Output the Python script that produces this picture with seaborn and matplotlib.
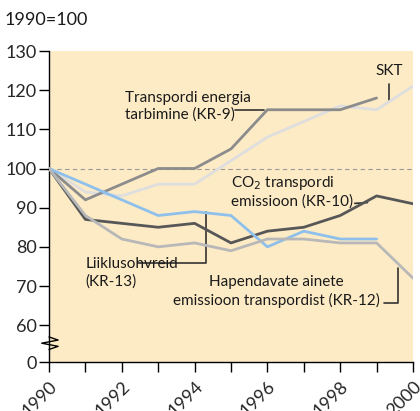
import numpy as np
import pandas as pd
import matplotlib
matplotlib.use("Agg")
import matplotlib.pyplot as plt
import matplotlib.transforms as mtransforms
import seaborn as sns

years = list(range(1990, 2001))

# 1990 = 100 index values
skt = [100, 94, 93, 96, 96, 102, 108, 112, 116, 115, 121]
energia_kr9 = [100, 92, 96, 100, 100, 105, 115, 115, 115, 118, None]
co2_kr10 = [100, 87, 86, 85, 86, 81, 84, 85, 88, 93, 91]
ohvrid_kr13 = [100, 96, 92, 88, 89, 88, 80, 84, 82, 82, None]
hapend_kr12 = [100, 88, 82, 80, 81, 79, 82, 82, 81, 81, 72]

series_names = ["SKT", "KR-9", "KR-10", "KR-13", "KR-12"]
series_values = [skt, energia_kr9, co2_kr10, ohvrid_kr13, hapend_kr12]
series_colors = ["#dedede", "#8c8c8c", "#575757", "#8ec0eb", "#b8b8b8"]

y_ticks = [60, 70, 80, 90, 100, 110, 120, 130]
x_label_years = [1990, 1992, 1994, 1996, 1998, 2000]

rows = []
for name, vals in zip(series_names, series_values):
    for yr, v in zip(years, vals):
        if v is not None:
            rows.append({"year": yr, "index": v, "series": name})
df = pd.DataFrame(rows)

sns.set_style("white")
plt.rcParams["font.family"] = ["Lato", "DejaVu Sans"]

fig = plt.figure(figsize=(4.2, 4.11), dpi=100)
ax = fig.add_axes([49 / 420, 1 - 362 / 411, (413 - 49) / 420, (362 - 51) / 411])
ax.set_facecolor("#fdebc6")

ybot = 50.6
ax.axhline(100, color="#9a9a9a", lw=0.8, ls=(0, (4, 3)), zorder=1)

sns.lineplot(data=df, x="year", y="index", hue="series", hue_order=series_names,
             palette=dict(zip(series_names, series_colors)), lw=2,
             legend=False, ax=ax, zorder=3)

ax.set_xlim(1990, 2000)
ax.set_ylim(ybot, 130)
ax.set_xlabel("")
ax.set_ylabel("")

ax.set_yticks([ybot] + y_ticks)
ax.set_yticklabels(["0"] + [str(t) for t in y_ticks])
ax.set_xticks(years)
ax.set_xticklabels([str(y) if y in x_label_years else "" for y in years],
                   rotation=45, ha="right", rotation_mode="anchor")
ax.tick_params(axis="both", which="major", length=7, width=1, color="black",
               labelsize=13, direction="out", bottom=True, left=True)
ax.tick_params(axis="y", pad=2)
ax.tick_params(axis="x", pad=5)

for s in ["top", "right"]:
    ax.spines[s].set_visible(False)
for s in ["left", "bottom"]:
    ax.spines[s].set_color("black")
    ax.spines[s].set_linewidth(1)

# axis break mark on the y axis
trans = mtransforms.blended_transform_factory(ax.transAxes, ax.transData)
zx = np.array([0, 0.025, -0.02, 0.025, 0])
zy = np.array([57.0, 56.2, 55.4, 54.6, 53.8])
ax.plot(zx, zy, color="black", lw=1, transform=trans, clip_on=False, zorder=5)

fs = 11
txt = "#1a1a1a"
lc = "#333333"
ax.text(1992.1, 115.8, "Transpordi energia\ntarbimine (KR-9)", fontsize=fs,
        color=txt, va="center", ha="left", linespacing=1.25)
ax.plot([1995.1, 1995.9], [115, 115], color=lc, lw=1.2)

ax.text(1999.35, 125, "SKT", fontsize=fs, color=txt, ha="center", va="center")
ax.plot([1999.35, 1999.35], [121.7, 117.3], color=lc, lw=1.2)

ax.text(1995.0, 94.1, "CO$_2$ transpordi\nemissioon (KR-10)", fontsize=fs,
        color=txt, va="center", ha="left", linespacing=1.25)
ax.plot([1998.4, 1998.75], [91.1, 91.3], color=lc, lw=1.2)

ax.text(1991.0, 73.3, "Liiklusohvreid\n(KR-13)", fontsize=fs, color=txt,
        va="center", ha="left", linespacing=1.25)
ax.plot([1992.45, 1994.3, 1994.3], [75.8, 75.8, 88.9], color=lc, lw=1.2)

ax.text(1999.1, 68.6, "Hapendavate ainete\nemissioon transpordist (KR-12)",
        fontsize=fs, color=txt, va="center", ha="right", multialignment="center",
        linespacing=1.25)
ax.plot([1999.2, 1999.6, 1999.6], [65.6, 65.6, 74.5], color=lc, lw=1.2)

fig.text(5 / 420, 1 - 20 / 411, "1990=100", fontsize=13, color=txt,
         ha="left", va="center")

fig.savefig("out.png", dpi=100)
